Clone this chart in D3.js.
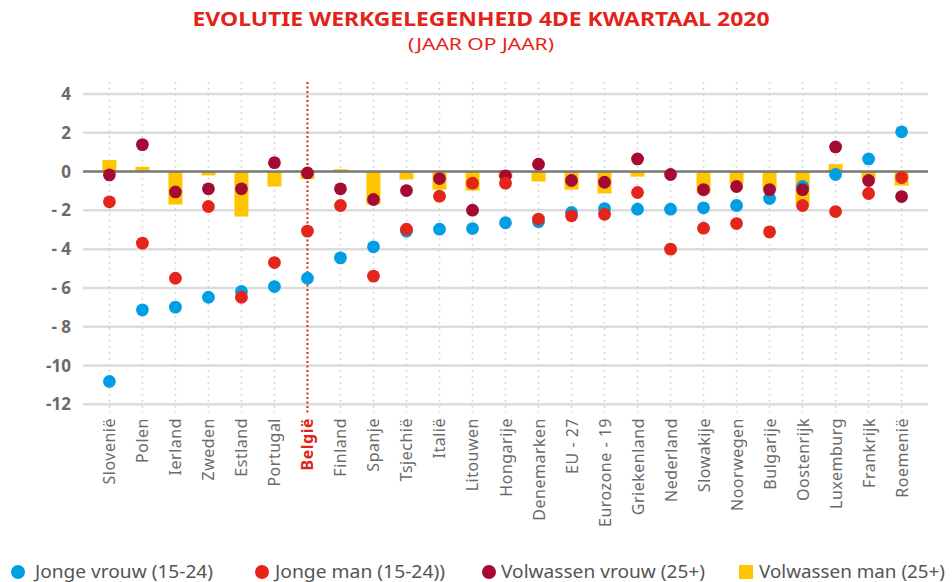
<!DOCTYPE html>
<html>
<head>
<meta charset="utf-8">
<script src="https://cdn.jsdelivr.net/npm/d3@7"></script>
<style>
  body { margin: 0; background: #fff; }
  text { font-family: "Noto Sans", sans-serif; }
</style>
</head>
<body>
<div id="wrapper"></div>
<script>
// data
const countries = ["Slovenië", "Polen", "Ierland", "Zweden", "Estland", "Portugal", "België",
  "Finland", "Spanje", "Tsjechië", "Italië", "Litouwen", "Hongarije", "Denemarken", "EU - 27",
  "Eurozone - 19", "Griekenland", "Nederland", "Slowakije", "Noorwegen", "Bulgarije",
  "Oostenrijk", "Luxemburg", "Frankrijk", "Roemenië"];
const jongeVrouw = [-10.82, -7.13, -6.99, -6.48, -6.18, -5.93, -5.5, -4.45, -3.88, -3.07, -2.97,
  -2.94, -2.64, -2.59, -2.11, -1.91, -1.94, -1.94, -1.87, -1.75, -1.39, -0.77, -0.15, 0.65, 2.05];
const jongeMan = [-1.56, -3.69, -5.5, -1.8, -6.48, -4.69, -3.07, -1.75, -5.39, -2.97, -1.27,
  -0.6, -0.6, -2.45, -2.28, -2.2, -1.08, -4.0, -2.92, -2.68, -3.11, -1.75, -2.06, -1.13, -0.31];
const volwassenVrouw = [-0.17, 1.39, -1.05, -0.89, -0.89, 0.46, -0.07, -0.89, -1.44, -0.98, -0.36,
  -1.99, -0.22, 0.38, -0.46, -0.55, 0.65, -0.15, -0.93, -0.77, -0.93, -0.93, 1.27, -0.46, -1.29];
const volwassenMan = [0.6, 0.24, -1.7, -0.2, -2.32, -0.77, -0.39, 0.12, -1.7, -0.41, -0.93,
  -0.98, -0.3, -0.51, -0.93, -1.13, -0.26, -0.1, -1.13, -0.62, -0.93, -1.7, 0.38, -0.39, -0.72];
const yTicks = [4, 2, 0, -2, -4, -6, -8, -10, -12];
const highlight = "België";

const legendItems = [
  { label: "Jonge vrouw (15-24)", color: "#009fe3", shape: "circle", x: 18, tx: 17, len: 178 },
  { label: "Jonge man (15-24))", color: "#e3251b", shape: "circle", x: 262, tx: 13, len: 170 },
  { label: "Volwassen vrouw (25+)", color: "#a50a33", shape: "circle", x: 489, tx: 12, len: 204 },
  { label: "Volwassen man (25+)", color: "#ffc600", shape: "square", x: 746, tx: 13, len: 186 },
];

const width = 952;
const height = 582;

const svg = d3.select("#wrapper")
  .append("svg")
    .attr("width", width)
    .attr("height", height);

// scales
const x = d3.scalePoint()
  .domain(countries)
  .range([83, 928])
  .padding(0.8);

const y = d3.scaleLinear()
  .domain([-12, 4])
  .range([404.3, 94]);

// title
svg.append("text")
  .attr("x", 481).attr("y", 26)
  .attr("text-anchor", "middle")
  .attr("fill", "#e2231a")
  .attr("textLength", 577)
  .attr("lengthAdjust", "spacingAndGlyphs")
  .style("font-size", "20px")
  .style("font-weight", 700)
  .text("EVOLUTIE WERKGELEGENHEID 4DE KWARTAAL 2020");

svg.append("text")
  .attr("x", 481).attr("y", 50)
  .attr("text-anchor", "middle")
  .attr("fill", "#e2231a")
  .attr("textLength", 146)
  .attr("lengthAdjust", "spacingAndGlyphs")
  .style("font-size", "17px")
  .text("(JAAR OP JAAR)");

// horizontal grid
svg.append("g")
  .selectAll("line")
  .data(yTicks.filter(d => d !== 0))
  .join("line")
    .attr("x1", 83).attr("x2", 928)
    .attr("y1", d => y(d)).attr("y2", d => y(d))
    .attr("stroke", "#dcdcdc")
    .attr("stroke-width", 2.5);

// y labels
svg.append("g")
  .selectAll("text")
  .data(yTicks)
  .join("text")
    .attr("x", 71)
    .attr("y", d => y(d) + 6)
    .attr("text-anchor", "end")
    .attr("fill", "#6b6b6b")
    .style("font-size", "17px")
    .style("font-weight", 700)
    .text(d => d < 0 && d > -10 ? "- " + Math.abs(d) : String(d));

// vertical dotted grid
svg.append("g")
  .selectAll("line")
  .data(countries)
  .join("line")
    .attr("x1", d => x(d)).attr("x2", d => x(d))
    .attr("y1", 82).attr("y2", 413)
    .attr("stroke", d => d === highlight ? "#e2231a" : "#cfcfcf")
    .attr("stroke-width", d => d === highlight ? 2 : 1.6)
    .attr("stroke-dasharray", d => d === highlight ? "2,2.5" : "1.6,4.4");

// bars (volwassen man)
const barWidth = 14;
svg.append("g")
  .selectAll("rect")
  .data(countries)
  .join("rect")
    .attr("x", d => x(d) - barWidth / 2)
    .attr("width", barWidth)
    .attr("y", (d, i) => y(Math.max(0, volwassenMan[i])))
    .attr("height", (d, i) => Math.abs(y(volwassenMan[i]) - y(0)))
    .attr("fill", "#ffc600");

// zero line
svg.append("line")
  .attr("x1", 83).attr("x2", 928)
  .attr("y1", y(0)).attr("y2", y(0))
  .attr("stroke", "#777")
  .attr("stroke-width", 2.5);

// dots
function drawDots(values, color) {
  svg.append("g")
    .selectAll("circle")
    .data(countries)
    .join("circle")
      .attr("cx", d => x(d))
      .attr("cy", (d, i) => y(values[i]))
      .attr("r", 6.4)
      .attr("fill", color);
}
drawDots(jongeVrouw, "#009fe3");
drawDots(volwassenVrouw, "#a50a33");
drawDots(jongeMan, "#e3251b");

// x labels
svg.append("g")
  .selectAll("text")
  .data(countries)
  .join("text")
    .attr("transform", d => `translate(${x(d) + 6},418) rotate(-90)`)
    .attr("text-anchor", "end")
    .attr("fill", d => d === highlight ? "#e2231a" : "#6b6b6b")
    .style("font-size", "16px")
    .style("letter-spacing", "0.5px")
    .style("font-weight", d => d === highlight ? 700 : 400)
    .text(d => d);

// legend
const legend = svg.append("g")
  .selectAll("g")
  .data(legendItems)
  .join("g")
    .attr("transform", d => `translate(${d.x},572)`);

legend.filter(d => d.shape === "circle")
  .append("circle")
    .attr("r", 7)
    .attr("fill", d => d.color);

legend.filter(d => d.shape === "square")
  .append("rect")
    .attr("x", -7).attr("y", -7)
    .attr("width", 14).attr("height", 14)
    .attr("fill", d => d.color);

legend.append("text")
  .attr("x", d => d.tx)
  .attr("y", 6)
  .attr("fill", "#555")
  .attr("textLength", d => d.len)
  .attr("lengthAdjust", "spacingAndGlyphs")
  .style("font-size", "18px")
  .text(d => d.label);
</script>
</body>
</html>
